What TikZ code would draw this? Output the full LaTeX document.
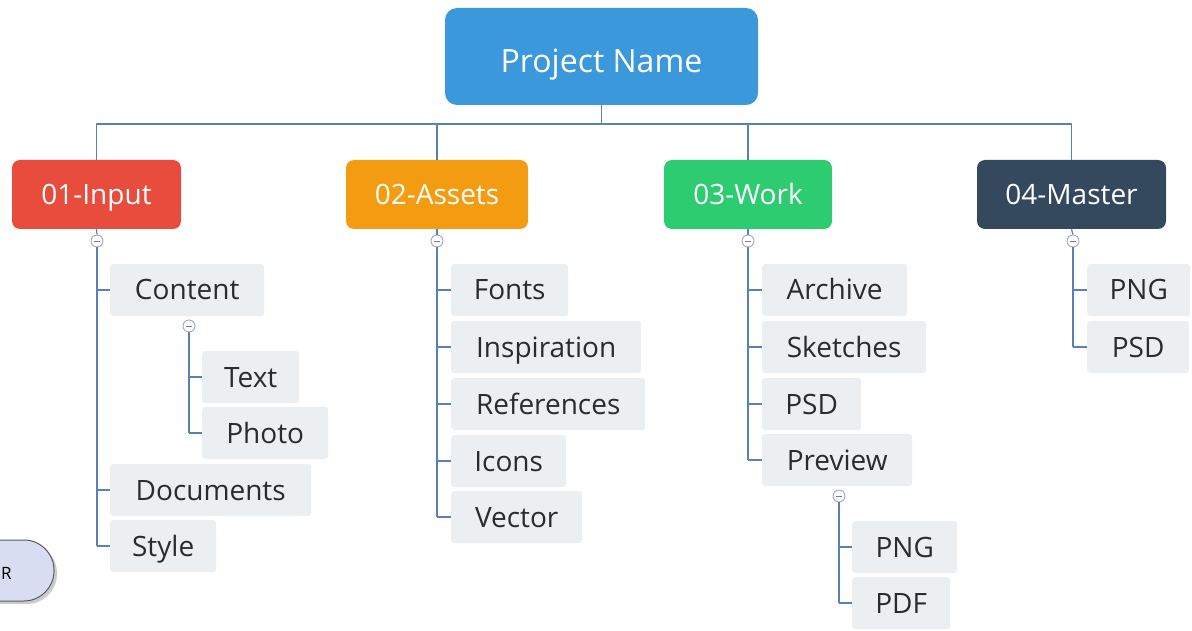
\documentclass[tikz,border=0pt]{standalone}
\usepackage{fontspec}
\setmainfont{Open Sans}
\definecolor{rootc}{HTML}{3A98DB}
\definecolor{inc}{HTML}{E74C3C}
\definecolor{asc}{HTML}{F39C12}
\definecolor{wkc}{HTML}{2ECC71}
\definecolor{msc}{HTML}{34495E}
\definecolor{leafc}{HTML}{ECEFF1}
\definecolor{textc}{HTML}{2B2B2B}
\definecolor{linec}{HTML}{5A80B8}
\definecolor{togc}{HTML}{9AAAC8}
\definecolor{pillc}{HTML}{D8DDF2}
\tikzset{
  conn/.style={draw=linec, line width=1.2pt},
  leaf/.style={fill=leafc, rounded corners=3pt, minimum height=52pt, anchor=west,
    inner sep=0pt, text=textc, font=\fontsize{28}{30}\selectfont,
    text height=20pt, text depth=0pt},
  cat/.style={rounded corners=8pt, minimum height=69pt, inner sep=0pt, text=white,
    font=\fontsize{28}{30}\selectfont, text height=20pt, text depth=0pt},
  tog/.style={circle, draw=togc, fill=white, minimum size=12pt, inner sep=0pt, line width=0.9pt,
    path picture={\draw[gray, line width=0.9pt] ([xshift=-3pt]path picture bounding box.center) -- ([xshift=3pt]path picture bounding box.center);}},
}
\begin{document}
\begin{tikzpicture}[x=1pt, y=-1pt]
\useasboundingbox (0,0) rectangle (1192,631);
% bottom-left partial pill
\begin{scope}
\clip (0,0) rectangle (1192,631);
\fill[gray!40, rounded corners=30pt] (-58,543) rectangle (57,604);
\draw[fill=pillc, draw=black!65, line width=1pt, rounded corners=30pt] (-60,540) rectangle (54,601);
\end{scope}
\node[anchor=west, inner sep=0pt, font=\fontsize{17}{19}\selectfont] (pilltext) at (1,573) {R};
% root
\node[fill=rootc, rounded corners=12pt, minimum width=313pt, minimum height=97pt, inner sep=0pt,
  text=white, font=\fontsize{32}{34}\selectfont, text height=32pt, text depth=0pt]
  (root) at (601.5,56.5) {Project Name};
\coordinate (bus) at (0,124);
% categories
\node[cat, fill=inc, minimum width=169pt] (c1) at (96.5,194.5) {01-Input};
\node[cat, fill=asc, minimum width=182pt] (c2) at (437,194.5) {02-Assets};
\node[cat, fill=wkc, minimum width=168pt] (c3) at (748,194.5) {03-Work};
\node[cat, fill=msc, minimum width=189pt] (c4) at (1071.5,194.5) {04-Master};
\foreach \c in {c1,c2,c3,c4}{
  \draw[conn] (root.south) -- (root.south |- bus) -| (\c.north);
}
% toggles
\node[tog] (t1) at (97,241) {};
\node[tog] (t2) at (437,241) {};
\node[tog] (t3) at (748,241) {};
\node[tog] (t4) at (1073,241) {};
\foreach \c/\t in {c1/t1,c2/t2,c3/t3,c4/t4}{\draw[conn] (\c.south) -- (\t.north);}
% input leaves
\node[leaf, minimum width=154pt] (content) at (110,290) {Content};
\node[tog] (t5) at (189,326) {};
\node[leaf, minimum width=97pt] (text) at (202,377) {Text};
\node[leaf, minimum width=126pt] (photo) at (202,433) {Photo};
\node[leaf, minimum width=201pt] (docs) at (110,490) {Documents};
\node[leaf, minimum width=106pt] (style) at (110,546) {Style};
\draw[conn] (t1.south) -- (t1.south |- style.west);
\foreach \n in {content,docs,style}{\draw[conn] (t1.south |- \n.west) -- (\n.west);}
\draw[conn] (t5.south) -- (t5.south |- photo.west);
\foreach \n in {text,photo}{\draw[conn] (t5.south |- \n.west) -- (\n.west);}
% assets leaves
\node[leaf, minimum width=117pt] (fonts) at (451,290) {Fonts};
\node[leaf, minimum width=190pt] (insp) at (451,347) {Inspiration};
\node[leaf, minimum width=194pt] (refs) at (451,404) {References};
\node[leaf, minimum width=115pt] (icons) at (451,461) {Icons};
\node[leaf, minimum width=131pt] (vector) at (451,517) {Vector};
\draw[conn] (t2.south) -- (t2.south |- vector.west);
\foreach \n in {fonts,insp,refs,icons,vector}{\draw[conn] (t2.south |- \n.west) -- (\n.west);}
% work leaves
\node[leaf, minimum width=145pt] (archive) at (762,290) {Archive};
\node[leaf, minimum width=164pt] (sketch) at (762,347) {Sketches};
\node[leaf, minimum width=99pt] (wpsd) at (762,404) {PSD};
\node[leaf, minimum width=150pt] (preview) at (762,460) {Preview};
\node[tog] (t6) at (839,496) {};
\node[leaf, minimum width=105pt] (wpng) at (852,547) {PNG};
\node[leaf, minimum width=98pt] (wpdf) at (852,603) {PDF};
\draw[conn] (t3.south) -- (t3.south |- preview.west);
\foreach \n in {archive,sketch,wpsd,preview}{\draw[conn] (t3.south |- \n.west) -- (\n.west);}
\draw[conn] (t6.south) -- (t6.south |- wpdf.west);
\foreach \n in {wpng,wpdf}{\draw[conn] (t6.south |- \n.west) -- (\n.west);}
% master leaves
\node[leaf, minimum width=103pt] (mpng) at (1087,290) {PNG};
\node[leaf, minimum width=102pt] (mpsd) at (1087,347) {PSD};
\draw[conn] (t4.south) -- (t4.south |- mpsd.west);
\foreach \n in {mpng,mpsd}{\draw[conn] (t4.south |- \n.west) -- (\n.west);}
\end{tikzpicture}
\end{document}
